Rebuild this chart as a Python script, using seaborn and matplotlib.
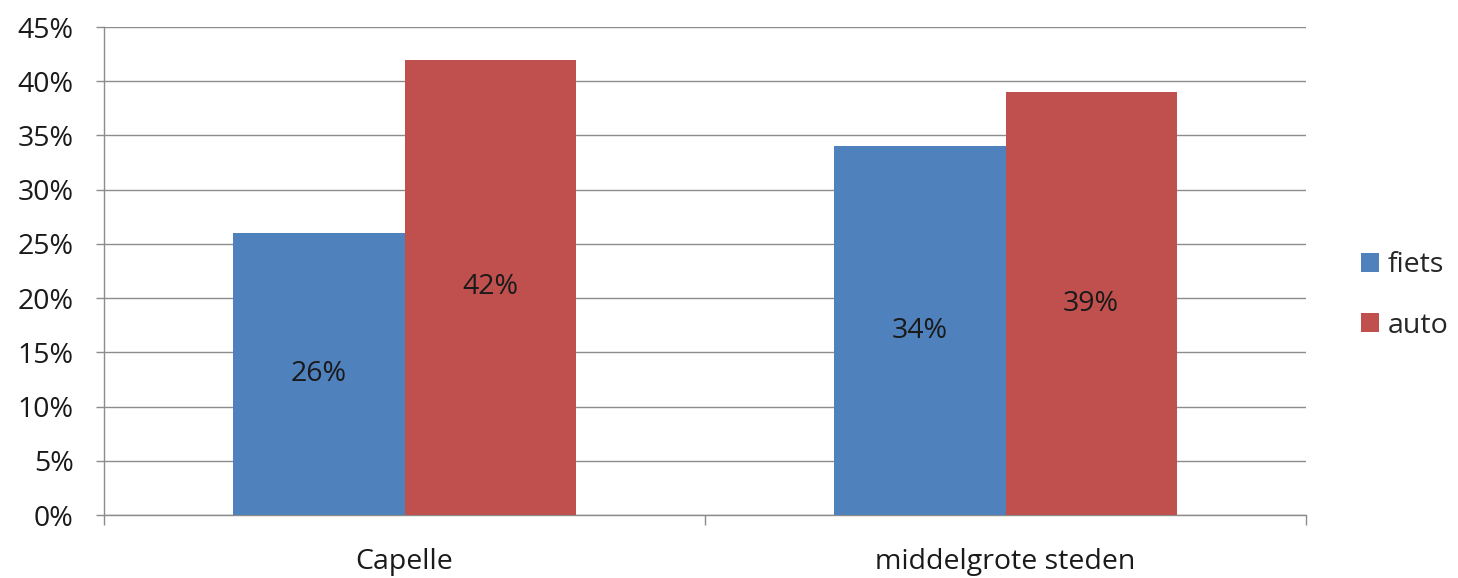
import matplotlib
matplotlib.use("Agg")
import matplotlib.pyplot as plt
import seaborn as sns
import pandas as pd
from matplotlib.ticker import FixedLocator, PercentFormatter

categories = ["Capelle", "middelgrote steden"]
series_names = ["fiets", "auto"]
fiets = [26, 34]
auto = [42, 39]
colors = ["#4F81BD", "#C0504D"]

df = pd.DataFrame({
    "cat": categories * 2,
    "mode": [series_names[0]] * 2 + [series_names[1]] * 2,
    "val": fiets + auto,
})

sns.set_theme(style="white")
plt.rcParams["font.family"] = ["Open Sans", "DejaVu Sans"]

fig = plt.figure(figsize=(14.58, 5.78), dpi=100)
ax = fig.add_axes([104 / 1458, 1 - 515 / 578, 1202 / 1458, 488 / 578])

sns.barplot(data=df, x="cat", y="val", hue="mode", palette=colors,
            width=0.57, gap=0, saturation=1, linewidth=0, ax=ax, zorder=3)

for c in ax.containers:
    ax.bar_label(c, labels=[f"{v:.0f}%" for v in c.datavalues],
                 label_type="center", fontsize=20.5, color="#1a1a1a")

ax.set_xlim(-0.5, 1.5)
ax.set_ylim(0, 45)
ax.set_yticks(range(0, 46, 5))
ax.yaxis.set_major_formatter(PercentFormatter(decimals=0))
ax.grid(axis="y", color="#8C8C8C", linewidth=1, zorder=0)
ax.set_axisbelow(True)
ax.set_xlabel("")
ax.set_ylabel("")

for s in ["top", "right"]:
    ax.spines[s].set_visible(False)
for s in ["left", "bottom"]:
    ax.spines[s].set_color("#8C8C8C")
    ax.spines[s].set_linewidth(1)

ax.tick_params(axis="x", which="major", bottom=False, labelsize=20.5, pad=18, labelcolor="#1a1a1a")
ax.xaxis.set_minor_locator(FixedLocator([-0.5, 0.5, 1.5]))
ax.tick_params(axis="x", which="minor", bottom=True, length=7, color="#8C8C8C", width=1, direction="out")
ax.tick_params(axis="y", which="major", left=True, length=6, color="#8C8C8C", width=1, labelsize=20.5,
               direction="out", pad=16, labelcolor="#1a1a1a")

leg = ax.legend(loc="center left", bbox_to_anchor=(1.029, 0.45), frameon=False,
                fontsize=20.5, handlelength=0.65, handleheight=0.65, labelspacing=1.15,
                handletextpad=0.3, borderaxespad=0.3)

fig.savefig("out.png", dpi=100)
